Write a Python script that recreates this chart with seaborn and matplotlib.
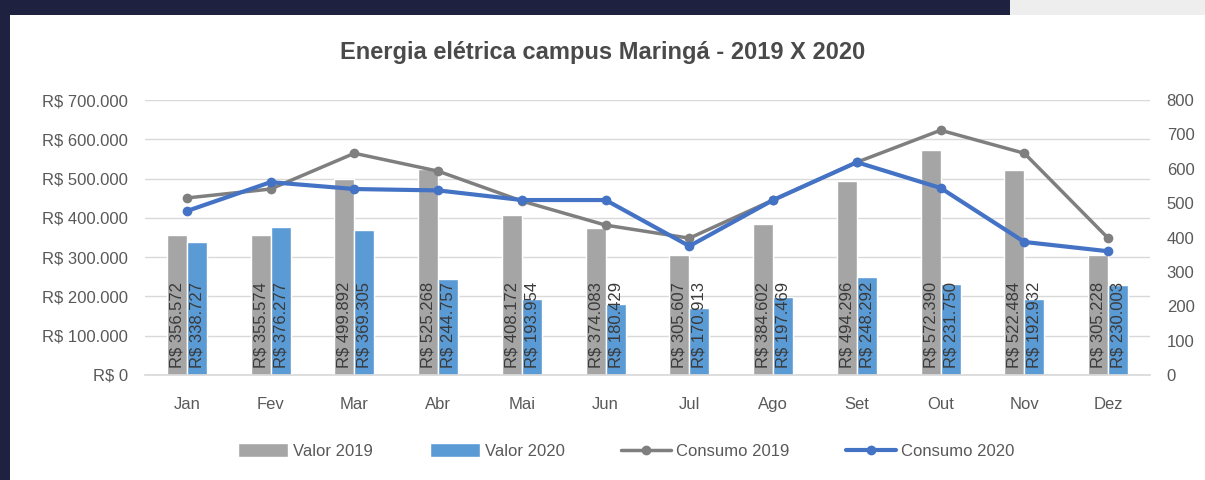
import numpy as np
import pandas as pd
import seaborn as sns
import matplotlib.pyplot as plt
from matplotlib.patches import Rectangle, Patch
from matplotlib.lines import Line2D
from matplotlib.ticker import FuncFormatter

meses = ["Jan", "Fev", "Mar", "Abr", "Mai", "Jun", "Jul", "Ago", "Set", "Out", "Nov", "Dez"]
valor_2019 = [356572, 355574, 499892, 525268, 408172, 374083, 305607, 384602, 494296, 572390, 522484, 305228]
valor_2020 = [338727, 376277, 369305, 244757, 193954, 180429, 170913, 197469, 248292, 231750, 192932, 230003]
consumo_2019 = [515, 541, 645, 593, 506, 436, 398, 509, 619, 712, 645, 398]
consumo_2020 = [477, 561, 541, 537, 509, 509, 375, 509, 619, 544, 387, 360]

cinza = "#a5a5a5"
azul = "#5b9bd5"
linha_cinza = "#7f7f7f"
linha_azul = "#4472c4"
texto = "#595959"


def reais(v):
    return "R$ " + f"{int(v):,}".replace(",", ".")


sns.set_theme(style="white")
plt.rcParams["font.family"] = ["Liberation Sans", "DejaVu Sans"]

barras = pd.DataFrame({
    "mes": meses * 2,
    "valor": valor_2019 + valor_2020,
    "serie": ["Valor 2019"] * 12 + ["Valor 2020"] * 12,
})

fig = plt.figure(figsize=(12.05, 4.8), dpi=100)
fig.patch.set_facecolor("#1e2240")
# white chart panel like the Excel screenshot
fig.patches.append(Rectangle((10 / 1205, 0), 1, 465 / 480, transform=fig.transFigure,
                             facecolor="white", edgecolor="none", zorder=-10))
fig.patches.append(Rectangle((1010 / 1205, 465 / 480), 1, 1, transform=fig.transFigure,
                             facecolor="#eeeeee", edgecolor="none", zorder=-10))

ax = fig.add_axes([145 / 1205, 105 / 480, 1005 / 1205, 275 / 480])
ax.set_facecolor("none")

sns.barplot(data=barras, x="mes", y="valor", hue="serie", order=meses,
            palette=[cinza, azul], width=0.48, saturation=1, ax=ax, legend=False)

for cont in ax.containers:
    for bar in cont:
        ax.annotate(reais(bar.get_height()), xy=(bar.get_x() + bar.get_width() / 2, 0),
                    xytext=(0, 5), textcoords="offset points", rotation=90,
                    ha="center", va="bottom", fontsize=12, color="#3a3a3a", zorder=5)

ax.set_ylim(0, 700000)
ax.set_yticks(np.arange(0, 700001, 100000))
ax.yaxis.set_major_formatter(FuncFormatter(lambda v, p: reais(v)))
ax.yaxis.grid(True, color="#d9d9d9", linewidth=1)
ax.set_axisbelow(True)
ax.set_xlim(-0.5, 11.5)
ax.set_xlabel("")
ax.set_ylabel("")
ax.tick_params(axis="both", colors=texto, labelsize=12, length=0)
ax.tick_params(axis="x", pad=16)
ax.tick_params(axis="y", pad=12)
for s in ["top", "right", "left"]:
    ax.spines[s].set_visible(False)
ax.spines["bottom"].set_color("#d9d9d9")

ax2 = ax.twinx()
pos = np.arange(len(meses))
sns.lineplot(x=pos, y=consumo_2019, color=linha_cinza, linewidth=2.5, marker="o",
             markersize=7, markeredgewidth=0, ax=ax2)
sns.lineplot(x=pos, y=consumo_2020, color=linha_azul, linewidth=3, marker="o",
             markersize=7, markeredgewidth=0, ax=ax2)
ax2.set_ylim(0, 800)
ax2.set_yticks(np.arange(0, 801, 100))
ax2.tick_params(axis="y", colors=texto, labelsize=12, length=0, pad=12)
for s in ["top", "right", "left", "bottom"]:
    ax2.spines[s].set_visible(False)
ax2.set_ylabel("")

fig.suptitle("Energia elétrica campus Maringá - 2019 X 2020", y=0.915, fontsize=17,
             fontweight="bold", color="#4a4a4a")

handles = [
    Patch(facecolor=cinza, label="Valor 2019"),
    Patch(facecolor=azul, label="Valor 2020"),
    Line2D([], [], color=linha_cinza, linewidth=2.5, marker="o", markersize=6, label="Consumo 2019"),
    Line2D([], [], color=linha_azul, linewidth=3, marker="o", markersize=6, label="Consumo 2020"),
]
fig.legend(handles=handles, loc="center", bbox_to_anchor=(0.52, 0.06), ncol=4, frameon=False,
           fontsize=12, labelcolor=texto, handlelength=3.0, handleheight=0.9,
           columnspacing=3.4, handletextpad=0.3)

fig.savefig("out.png", dpi=100, facecolor=fig.get_facecolor())
